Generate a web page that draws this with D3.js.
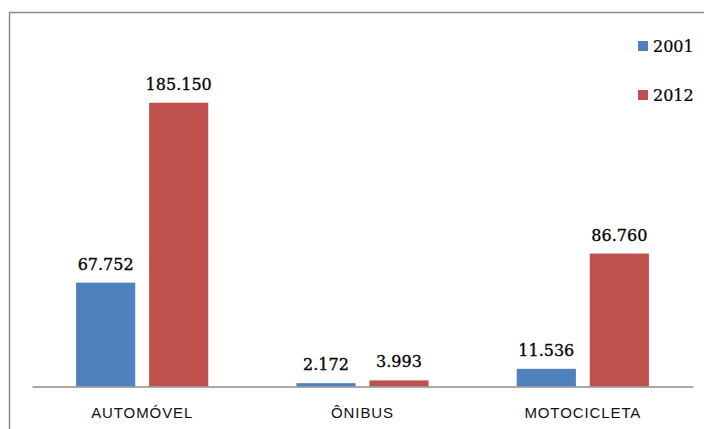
<!DOCTYPE html>
<html>
<head>
<meta charset="utf-8">
<script src="https://cdn.jsdelivr.net/npm/d3@7"></script>
<style>
html,body{margin:0;padding:0;background:#fff;overflow:hidden;}
</style>
</head>
<body>
<svg id="chart" width="704" height="429"></svg>
<script>
const categories = ["AUTOMÓVEL", "ÔNIBUS", "MOTOCICLETA"];
const seriesNames = ["2001", "2012"];
const values2001 = [67752, 2172, 11536];
const values2012 = [185150, 3993, 86760];
const colors = ["#4F81BD", "#C0504D"];

const fmt = v => d3.format(",")(v).replace(/,/g, ".");

const svg = d3.select("#chart");

// outer frame
svg.append("rect")
  .attr("x", 9.5).attr("y", 12.5)
  .attr("width", 760).attr("height", 500)
  .attr("fill", "none").attr("stroke", "#8c8c8c").attr("stroke-width", 1.5);

const x = d3.scaleBand().domain(categories).range([32, 693]).paddingInner(0).paddingOuter(0);
const xSub = d3.scaleBand().domain(seriesNames)
  .range([x.step() * 0.2, x.step() * 0.8]).paddingInner(0.19);
const y = d3.scaleLinear().domain([0, 200000]).range([386.5, 80]);

const data = categories.map((c, i) => ({
  cat: c,
  vals: [
    { s: seriesNames[0], v: values2001[i], color: colors[0] },
    { s: seriesNames[1], v: values2012[i], color: colors[1] }
  ]
}));

const g = svg.append("g");
const groups = g.selectAll("g.grp").data(data).enter().append("g")
  .attr("transform", d => `translate(${x(d.cat)},0)`);

groups.selectAll("rect").data(d => d.vals).enter().append("rect")
  .attr("x", d => xSub(d.s))
  .attr("y", d => y(d.v))
  .attr("width", xSub.bandwidth())
  .attr("height", d => y(0) - y(d.v))
  .attr("fill", d => d.color);

groups.selectAll("text.val").data(d => d.vals).enter().append("text")
  .attr("class", "val")
  .attr("x", d => xSub(d.s) + xSub.bandwidth() / 2)
  .attr("y", d => y(d.v) - 13)
  .attr("text-anchor", "middle")
  .attr("font-family", "DejaVu Serif")
  .attr("font-size", 16)
  .attr("fill", "#000")
  .attr("stroke", "#000").attr("stroke-width", 0.3)
  .text(d => fmt(d.v));

// axis
const xAxis = d3.axisBottom(x).tickSize(0).tickPadding(0);
const ax = svg.append("g").attr("transform", `translate(0,${y(0)})`).call(xAxis);
ax.select(".domain").attr("stroke", "#8c8c8c").attr("stroke-width", 1.5);
ax.selectAll(".tick text")
  .attr("dy", 0)
  .attr("y", 31)
  .attr("font-family", "Liberation Sans")
  .attr("font-size", 15)
  .attr("letter-spacing", "0.9px")
  .attr("fill", "#111");

// legend
const leg = svg.append("g");
const legItems = leg.selectAll("g").data(seriesNames).enter().append("g")
  .attr("transform", (d, i) => `translate(638,${41 + i * 49})`);
legItems.append("rect").attr("width", 10).attr("height", 10)
  .attr("fill", (d, i) => colors[i]);
legItems.append("text").attr("x", 15).attr("y", 11)
  .attr("font-family", "DejaVu Serif").attr("font-size", 16)
  .attr("fill", "#000").attr("stroke", "#000").attr("stroke-width", 0.2)
  .text(d => d);
</script>
</body>
</html>
